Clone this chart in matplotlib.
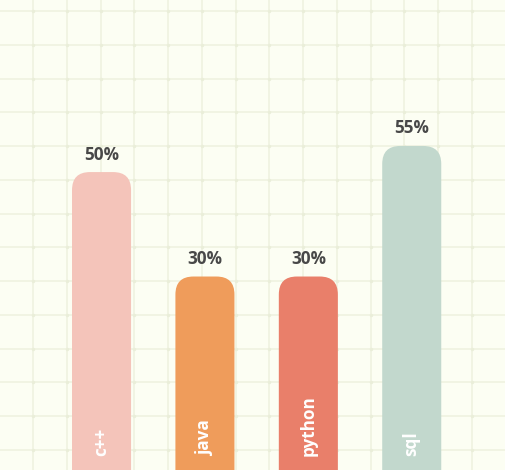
import numpy as np
import matplotlib
matplotlib.use("Agg")
import matplotlib.pyplot as plt
from matplotlib.patches import FancyBboxPatch

# datos del grafico
lenguajes = ["c++", "java", "python", "sql"]
porcentajes = [50, 30, 30, 55]
colores = ["#f4c4ba", "#ef9c5b", "#e97f6a", "#c2d8cd"]

fondo = "#fcfef3"
color_grid = "#f0f3e2"
color_texto = "#484848"
fuente = ["Open Sans", "DejaVu Sans"]


def main():
  ancho_px, alto_px = 505, 470
  fig = plt.figure(figsize=(ancho_px / 100, alto_px / 100), dpi=100)
  fig.patch.set_facecolor(fondo)

  #* cuadricula de fondo (en pixeles)
  bg = fig.add_axes([0, 0, 1, 1])
  bg.set_xlim(0, ancho_px)
  bg.set_ylim(alto_px, 0)
  bg.set_facecolor(fondo)
  bg.axis("off")
  paso = 33.77
  xs = np.arange(33, ancho_px, paso)
  ys = np.arange(11, alto_px, paso)
  for x in xs:
    bg.axvline(x, color=color_grid, lw=1.3, zorder=1)
  for y in ys:
    bg.axhline(y, color=color_grid, lw=1.3, zorder=1)
  gx, gy = np.meshgrid(xs, ys)
  bg.scatter(gx.ravel(), gy.ravel(), s=6, color="#eaeed9", lw=0, zorder=2)

  #! barras
  ax = fig.add_axes([0, 0, 1, 1])
  ax.patch.set_alpha(0)
  ax.axis("off")
  ax.set_xlim(-0.982, 3.902)
  ax.set_ylim(-7.05, 82.95)

  ancho = 0.571
  y_min = ax.get_ylim()[0]
  # relacion de escalas para redondear las esquinas en pixeles
  px_x = ancho_px / (ax.get_xlim()[1] - ax.get_xlim()[0])
  px_y = alto_px / (ax.get_ylim()[1] - ax.get_ylim()[0])
  aspecto = px_x / px_y
  radio = 18 / px_x

  for i, (lang, val, col) in enumerate(zip(lenguajes, porcentajes, colores)):
    base = y_min - 10
    caja = FancyBboxPatch((i - ancho / 2, base), ancho, val - base,
                          boxstyle=f"round,pad=0,rounding_size={radio}",
                          mutation_aspect=aspecto,
                          facecolor=col, edgecolor="none", zorder=3)
    ax.add_patch(caja)

    ax.annotate(f"{val}%", xy=(i, val), xytext=(0, 12.5),
                textcoords="offset pixels", ha="center", va="baseline",
                fontsize=12.3, fontweight="bold", family=fuente,
                color=color_texto, zorder=4)

    ax.annotate(lang, xy=(i, y_min), xytext=(0, 14),
                textcoords="offset pixels", rotation=90,
                rotation_mode="anchor", ha="left", va="center",
                fontsize=12.3, fontweight="bold", family=fuente,
                color="white", zorder=4)

  fig.savefig("out.png", dpi=100, facecolor=fondo)


if __name__ == "__main__":
  main()
